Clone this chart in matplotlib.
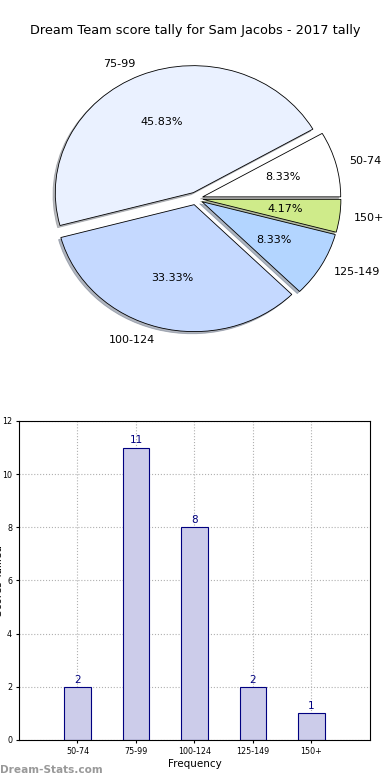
import matplotlib.pyplot as plt

# data
ranges = ["50-74", "75-99", "100-124", "125-149", "150+"]
counts = [2, 11, 8, 2, 1]
pie_colors = ["#ffffff", "#eaf1ff", "#c5d9ff", "#b3d5ff", "#cfeb8a"]
explode = [0.05, 0.05, 0.05, 0.05, 0.05]

fig = plt.figure(figsize=(3.9, 7.8), dpi=100)
fig.text(0.5, 0.961, "Dream Team score tally for Sam Jacobs - 2017 tally",
         ha="center", va="center", fontsize=9.3)

# ---- pie ----
ax1 = fig.add_axes([0.06, 0.542, 0.885, 0.407])
wedges, texts, autotexts = ax1.pie(
    counts, labels=ranges, colors=pie_colors, explode=explode,
    autopct="%1.2f%%", shadow=dict(ox=-0.012, oy=-0.012, shade=0.5),
    startangle=0,
    wedgeprops=dict(edgecolor="black", linewidth=0.6),
    textprops=dict(fontsize=8))
ax1.set_aspect("auto")
ax1.set_xlim(-1.25, 1.25)
ax1.set_ylim(-1.25, 1.25)

# ---- bars ----
ax2 = fig.add_axes([0.0487, 0.0513, 0.9, 0.409])
x = list(range(len(ranges)))
bars = ax2.bar(x, counts, width=0.45, color="#ccccea", edgecolor="#000080",
               linewidth=0.8, zorder=2)
for xi, c in zip(x, counts):
    ax2.text(xi, c + 0.08, str(c), ha="center", va="bottom",
             fontsize=7.5, color="#000080")
ax2.set_xlim(-1, 5)
ax2.set_ylim(0, 12)
ax2.set_xticks(x)
ax2.set_xticklabels(ranges, fontsize=5.8)
ax2.set_yticks(range(0, 13, 2))
ax2.tick_params(axis="y", labelsize=5.8)
ax2.tick_params(length=2, pad=3)
ax2.grid(True, linestyle=":", color="#b0b0b0", linewidth=0.8, zorder=0)
ax2.set_axisbelow(True)
ax2.set_xlabel("Frequency", fontsize=7.5, labelpad=2)
ax2.set_ylabel("Scores Tallied", fontsize=7.5)
ax2.yaxis.set_label_coords(-0.043, 0.5)

fig.text(0.0, 0.013, "Dream-Stats.com", fontsize=7.6, color="#999999",
         fontweight="bold", ha="left", va="center")

fig.savefig("out.png", dpi=100)
